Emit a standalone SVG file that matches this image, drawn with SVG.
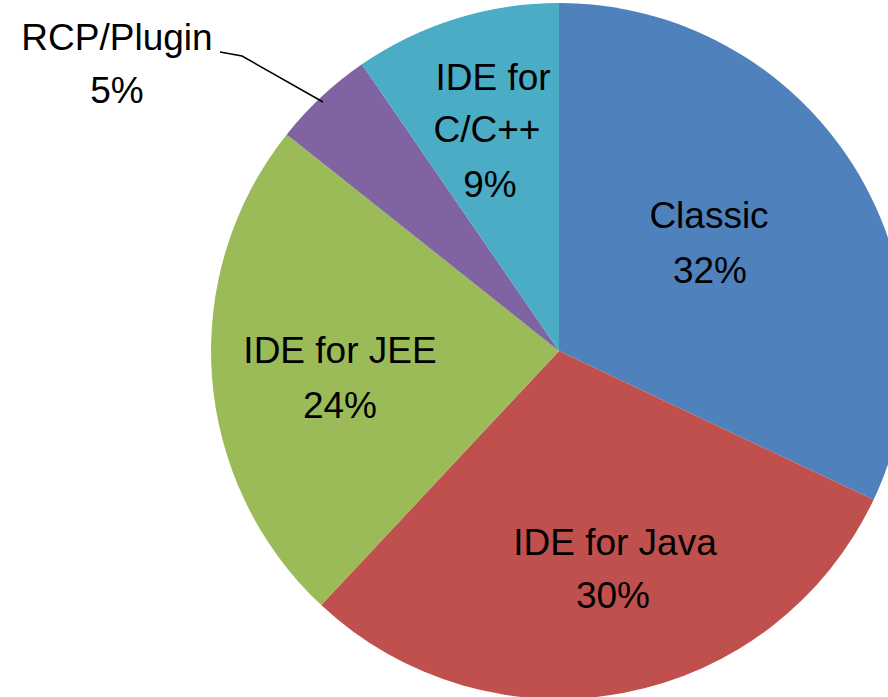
<svg xmlns="http://www.w3.org/2000/svg" width="888" height="697" viewBox="0 0 888 697">
<style>
text{font-family:"Liberation Sans",Arial,sans-serif;font-size:37px;fill:#000;text-anchor:middle}
.s{stroke:none}
</style>
<rect width="888" height="697" fill="#fff"/>
<g id="slices">
<g id="classic"><path class="s" fill="#4F81BD" d="M559,351 L559,3 A348,348 0 0 1 873.6,499.7 Z"/></g>
<g id="java"><path class="s" fill="#C0504D" d="M559,351 L873.6,499.7 A348,348 0 0 1 321.2,605.1 Z"/></g>
<g id="jee"><path class="s" fill="#9BBB59" d="M559,351 L321.2,605.1 A348,348 0 0 1 286.7,134.4 Z"/></g>
<g id="rcp"><path class="s" fill="#8064A2" d="M559,351 L286.7,134.4 A348,348 0 0 1 361.9,64.2 Z"/></g>
<g id="cc"><path class="s" fill="#4BACC6" d="M559,351 L361.9,64.2 A348,348 0 0 1 559,3 Z"/></g>
</g>
<g id="connectors">
<polyline points="220,52 242,56 323,102" fill="none" stroke="#000" stroke-width="1.5"/>
</g>
<g id="labels">
<g id="label-classic"><text x="709" y="228">Classic</text><text x="710" y="283">32%</text></g>
<g id="label-java"><text x="615" y="555">IDE for Java</text><text x="613" y="608">30%</text></g>
<g id="label-jee"><text x="340" y="363">IDE for JEE</text><text x="340" y="418">24%</text></g>
<g id="label-rcp"><text x="117" y="50">RCP/Plugin</text><text x="117" y="103">5%</text></g>
<g id="label-cc"><text x="493" y="90">IDE for</text><text x="487" y="142">C/C++</text><text x="490" y="197">9%</text></g>
</g>
</svg>
